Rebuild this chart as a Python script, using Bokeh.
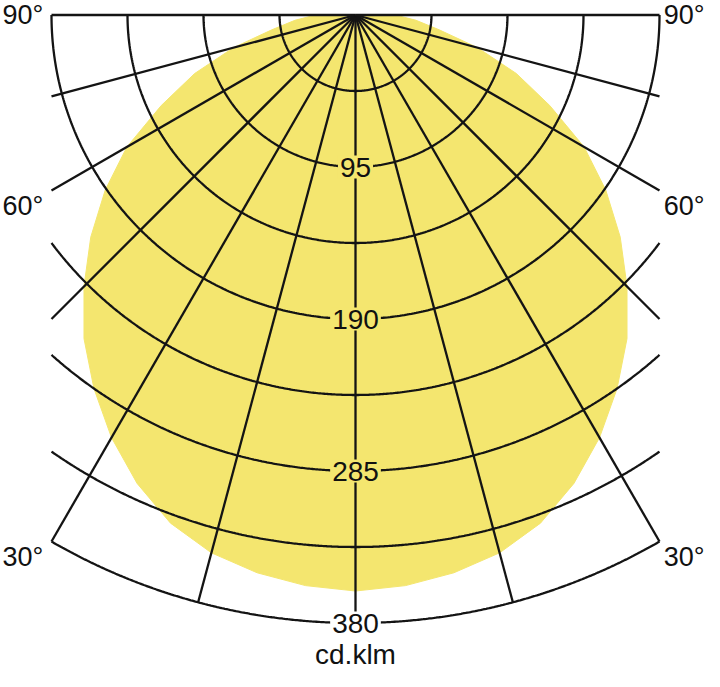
import numpy as np
from bokeh.plotting import figure
from bokeh.models import Range1d, ColumnDataSource
from bokeh.core.properties import value
from bokeh.embed import file_html
from bokeh.resources import INLINE

# ---- data -----------------------------------------------------------------
# luminous intensity curve (cd/klm) against angle from nadir (degrees)
gamma_deg = [0, 5, 10, 15, 20, 25, 30, 35, 40, 45, 50, 55, 60, 65, 70, 75, 80, 85, 90]
intensity = [360, 358, 354, 348, 338, 323, 305, 285, 264, 240, 216, 191, 165, 134, 107, 79, 53, 38, 25]

# polar grid
ring_values = [47.5, 95, 142.5, 190, 237.5, 285, 332.5, 380]
ring_label_values = [95, 190, 285, 380]
ring_label_texts = ["95", "190", "285", "380"]
ray_angles = [-90, -75, -60, -45, -30, -15, 0, 15, 30, 45, 60, 75, 90]
angle_label_values = [90, 60, 30]
angle_label_texts = ["90°", "60°", "30°"]
unit_text = "cd.klm"

# ---- geometry ---------------------------------------------------------------
K = 1.60             # px per cd
HALF_W = 190.0       # half width of the grid box (cd)
R_MAX = 380.0
W, H = 704, 671
cx, cy = 355, 14.5   # canvas position of the origin

p = figure(width=W, height=H, output_backend="svg", toolbar_location=None,
           x_range=Range1d(-cx / K, (W - cx) / K),
           y_range=Range1d(-(H - cy) / K, cy / K),
           min_border=0, background_fill_color="white", border_fill_color="white")
p.axis.visible = False
p.grid.visible = False
p.outline_line_color = None

FONT = value("Liberation Sans")
FS = value("28px")
FS_ANG = value("27px")
YELLOW = "#F4E66F"
LINE = "#141414"
LW = 2.3

# intensity patch (mirrored for the other side)
g = np.radians(np.array(gamma_deg, dtype=float))
I = np.array(intensity, dtype=float)
gx = np.concatenate([-(I * np.sin(g))[::-1], (I * np.sin(g))[1:]])
gy = np.concatenate([-(I * np.cos(g))[::-1], -(I * np.cos(g))[1:]])
gx = np.concatenate([[0.0], gx, [0.0]])
gy = np.concatenate([[0.0], gy, [0.0]])
p.patch(gx, gy, fill_color=YELLOW, line_color=YELLOW, line_width=1)

# rings, clipped to the grid box
xs, ys = [], []
for r in ring_values:
    tmax = np.pi / 2 if r <= HALF_W else np.arcsin(HALF_W / r)
    t = np.linspace(-tmax, tmax, 400)
    xs.append(list(r * np.sin(t)))
    ys.append(list(-r * np.cos(t)))
p.multi_line(xs, ys, line_color=LINE, line_width=LW)

# rays
rx, ry = [], []
for a in ray_angles:
    t = np.radians(a)
    s = abs(np.sin(t))
    rend = R_MAX if s < 1e-9 else min(R_MAX, HALF_W / s)
    rx.append([0.0, rend * np.sin(t)])
    ry.append([0.0, -rend * np.cos(t)])
p.multi_line(rx, ry, line_color=LINE, line_width=LW)

# ring labels on the vertical axis
lab = ColumnDataSource(dict(
    x=[0.0] * len(ring_label_values),
    y=[-v for v in ring_label_values],
    text=ring_label_texts,
    bg=[YELLOW, YELLOW, YELLOW, "white"],
))
p.text(x="x", y="y", text="text", source=lab, text_font=FONT, text_font_size=FS,
       text_color="#111111", text_align="center", text_baseline="middle",
       background_fill_color="bg", padding=2)

# angle labels at both sides
ax_left = (2 - cx) / K
ax_right = (W - cx) / K
ly = []
for a in angle_label_values:
    t = np.radians(a)
    rend = min(R_MAX, HALF_W / np.sin(t))
    yend = -rend * np.cos(t)
    ly.append(yend - (0.0 if a == 90 else 9.6))
p.text(x=[ax_left] * 3, y=ly, text=angle_label_texts, text_font=FONT, text_font_size=FS_ANG,
       text_color="#111111", text_align="left", text_baseline="middle")
p.text(x=[ax_right] * 3, y=ly, text=angle_label_texts, text_font=FONT, text_font_size=FS_ANG,
       text_color="#111111", text_align="right", text_baseline="middle")

# unit label
p.text(x=[0.0], y=[-(654 - cy) / K], text=[unit_text], text_font=FONT, text_font_size=FS,
       text_color="#111111", text_align="center", text_baseline="middle")

open("out.html", "w").write(file_html(p, INLINE))
